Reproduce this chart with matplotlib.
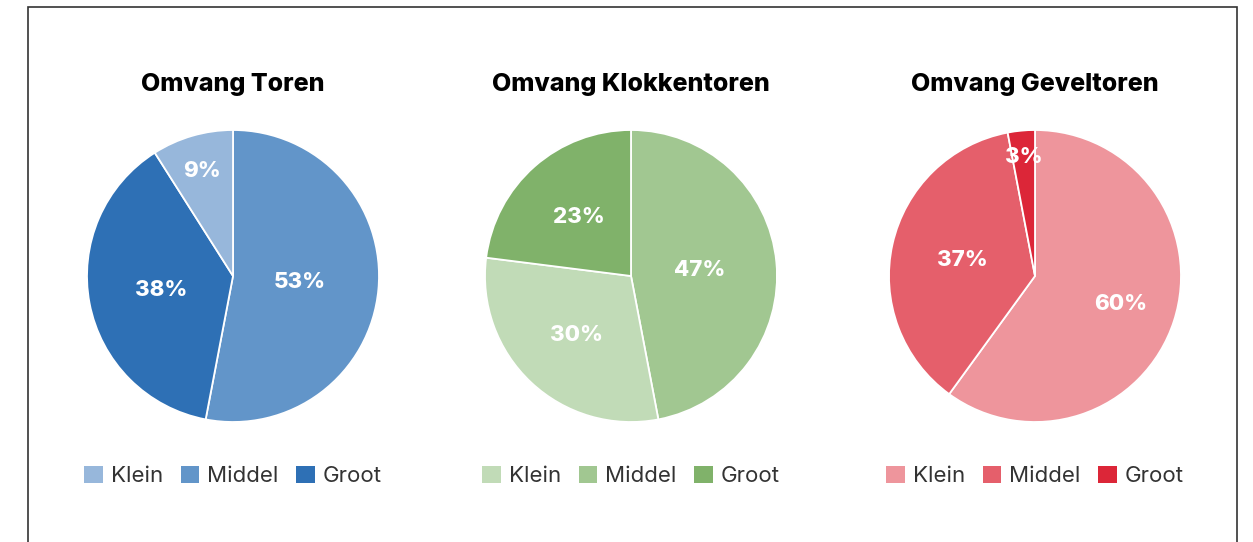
import numpy as np
import matplotlib.pyplot as plt
from matplotlib.patches import Patch, Rectangle

# Data
categories = ['Klein', 'Middel', 'Groot']
titles = ['Omvang Toren', 'Omvang Klokkentoren', 'Omvang Geveltoren']
toren = [9, 53, 38]
klokkentoren = [30, 47, 23]
geveltoren = [60, 37, 3]
series = [toren, klokkentoren, geveltoren]

# Colours per category (Klein, Middel, Groot)
palettes = [
    ['#97b7db', '#6295c9', '#2e70b5'],
    ['#c1dbb7', '#a1c791', '#80b26a'],
    ['#ee959c', '#e55f6b', '#dc2638'],
]

# radial position of the percentage labels, per category
label_dist = [
    [0.75, 0.46, 0.50],
    [0.55, 0.47, 0.54],
    [0.62, 0.51, 0.82],
]

W, H = 1253, 542
centers_x = [233, 631, 1035]
center_y = 276
radius = 146

plt.rcParams['font.family'] = ['Inter', 'DejaVu Sans']
fig = plt.figure(figsize=(W / 100, H / 100), dpi=100)
fig.patch.set_facecolor('white')

# outer frame
fig.add_artist(Rectangle((28 / W, -0.05), (1237 - 28) / W, 1 - 7 / H + 0.05,
                         transform=fig.transFigure, fill=False,
                         edgecolor='#333333', linewidth=1.2))

for i in range(3):
    values = series[i]
    colors = palettes[i]
    # slices sorted largest first, clockwise from 12 o'clock
    order = sorted(range(3), key=lambda k: -values[k])
    vals = [values[k] for k in order]
    cols = [colors[k] for k in order]

    cx = centers_x[i]
    ax = fig.add_axes([(cx - radius) / W, (H - center_y - radius) / H,
                       2 * radius / W, 2 * radius / H])
    wedges, _ = ax.pie(vals, colors=cols, startangle=90, counterclock=False,
                       radius=1, wedgeprops=dict(edgecolor='white', linewidth=1.3))
    ax.set_xlim(-1, 1)
    ax.set_ylim(-1, 1)
    ax.set_aspect('equal')
    ax.axis('off')

    for w, k in zip(wedges, order):
        ang = np.deg2rad((w.theta1 + w.theta2) / 2)
        r = label_dist[i][k]
        ax.text(r * np.cos(ang), r * np.sin(ang), f'{values[k]}%',
                ha='center', va='center', color='white',
                fontsize=16, fontweight='heavy')

    fig.text(cx / W, 1 - 84 / H, titles[i], ha='center', va='center',
             fontsize=18, fontweight='heavy', color='black')

    handles = [Patch(facecolor=c, edgecolor='none') for c in colors]
    fig.legend(handles, categories, loc='center',
               bbox_to_anchor=(cx / W, 1 - 476 / H), ncol=3, frameon=False,
               fontsize=16, handlelength=0.85, handleheight=0.85,
               handletextpad=0.35, columnspacing=0.8, labelcolor='#333333')

fig.savefig('out.png', dpi=100, facecolor='white')
